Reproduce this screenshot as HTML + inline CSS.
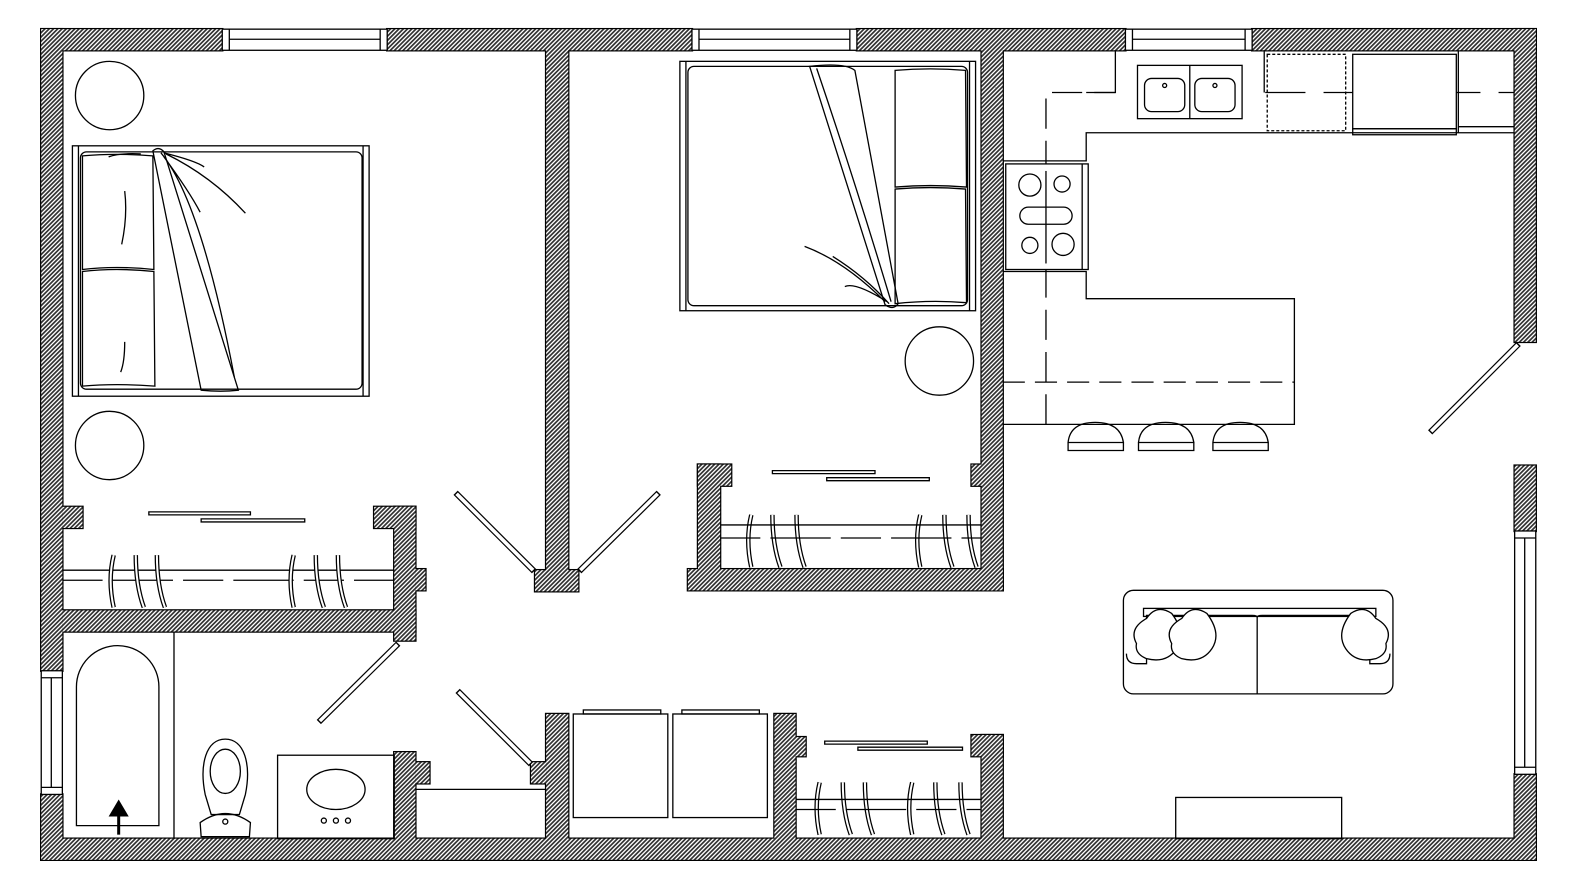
<!DOCTYPE html>
<html><head><meta charset="utf-8"><style>html,body{margin:0;padding:0;background:#fff}svg{display:block}</style></head>
<body>
<svg width="1577" height="896" viewBox="0 0 1568 891" preserveAspectRatio="none" xmlns="http://www.w3.org/2000/svg">
<defs>
<pattern id="h" width="3" height="3" patternUnits="userSpaceOnUse" patternTransform="rotate(45)">
<rect width="3" height="3" fill="#fff"/><rect width="1.7" height="3" fill="#333"/>
</pattern>
<g id="hg"><path d="M0 0 q-6 25 0 52" fill="none" stroke="#000" stroke-width="4.5"/><path d="M0 0 q-6 25 0 52" fill="none" stroke="#fff" stroke-width="2"/></g>
<g id="hg3"><path d="M0 0 q0 30 8 52" fill="none" stroke="#000" stroke-width="4.5"/><path d="M0 0 q0 30 8 52" fill="none" stroke="#fff" stroke-width="2"/></g>
</defs>
<rect width="1568" height="891" fill="#fff"/>

<g id="walls" stroke="#000" stroke-width="2.4" fill="#000">
<rect x="41" y="29" width="180" height="21"/><rect x="385" y="29" width="303" height="21"/><rect x="852" y="29" width="267" height="21"/><rect x="1245" y="29" width="282" height="21"/>
<rect x="41" y="834" width="1486" height="21"/>
<rect x="41" y="29" width="21" height="638"/><rect x="41" y="790" width="21" height="65"/>
<rect x="1506" y="29" width="21" height="311"/><rect x="1506" y="463" width="21" height="65"/><rect x="1506" y="770" width="21" height="85"/>
<rect x="62" y="607" width="351" height="21"/>
<rect x="392" y="504" width="21" height="133"/><rect x="372" y="504" width="41" height="21"/><rect x="413" y="566" width="10" height="21"/>
<rect x="62" y="504" width="20" height="21"/>
<rect x="392" y="748" width="21" height="90"/><rect x="413" y="758" width="14" height="21"/>
<rect x="543" y="45" width="22" height="530"/><rect x="532" y="567" width="43" height="21"/>
<rect x="543" y="710" width="22" height="128"/><rect x="528" y="758" width="15" height="21"/>
<rect x="770" y="710" width="21" height="128"/><rect x="791" y="733" width="10" height="19"/>
<rect x="976" y="731" width="21" height="107"/><rect x="966" y="731" width="31" height="21"/>
<rect x="976" y="45" width="21" height="542"/><rect x="684" y="566" width="313" height="21"/>
<rect x="694" y="462" width="22" height="125"/><rect x="694" y="462" width="33" height="21"/><rect x="966" y="462" width="31" height="21"/>
</g>
<g fill="url(#h)" stroke="none">
<rect x="41" y="29" width="180" height="21"/><rect x="385" y="29" width="303" height="21"/><rect x="852" y="29" width="267" height="21"/><rect x="1245" y="29" width="282" height="21"/>
<rect x="41" y="834" width="1486" height="21"/>
<rect x="41" y="29" width="21" height="638"/><rect x="41" y="790" width="21" height="65"/>
<rect x="1506" y="29" width="21" height="311"/><rect x="1506" y="463" width="21" height="65"/><rect x="1506" y="770" width="21" height="85"/>
<rect x="62" y="607" width="351" height="21"/>
<rect x="392" y="504" width="21" height="133"/><rect x="372" y="504" width="41" height="21"/><rect x="413" y="566" width="10" height="21"/>
<rect x="62" y="504" width="20" height="21"/>
<rect x="392" y="748" width="21" height="90"/><rect x="413" y="758" width="14" height="21"/>
<rect x="543" y="45" width="22" height="530"/><rect x="532" y="567" width="43" height="21"/>
<rect x="543" y="710" width="22" height="128"/><rect x="528" y="758" width="15" height="21"/>
<rect x="770" y="710" width="21" height="128"/><rect x="791" y="733" width="10" height="19"/>
<rect x="976" y="731" width="21" height="107"/><rect x="966" y="731" width="31" height="21"/>
<rect x="976" y="45" width="21" height="542"/><rect x="684" y="566" width="313" height="21"/>
<rect x="694" y="462" width="22" height="125"/><rect x="694" y="462" width="33" height="21"/><rect x="966" y="462" width="31" height="21"/>
</g>

<g fill="none" stroke="#000" stroke-width="1.3">
<rect x="221" y="29" width="164" height="21" fill="#fff"/><line x1="228" y1="29" x2="228" y2="50"/><line x1="378" y1="29" x2="378" y2="50"/><line x1="228" y1="39" x2="378" y2="39"/>
<rect x="688" y="29" width="164" height="21" fill="#fff"/><line x1="695" y1="29" x2="695" y2="50"/><line x1="845" y1="29" x2="845" y2="50"/><line x1="695" y1="39" x2="845" y2="39"/>
<rect x="1119" y="29" width="126" height="21" fill="#fff"/><line x1="1126" y1="29" x2="1126" y2="50"/><line x1="1238" y1="29" x2="1238" y2="50"/><line x1="1126" y1="39" x2="1238" y2="39"/>
<rect x="41" y="667" width="21" height="123" fill="#fff"/><line x1="41" y1="674" x2="62" y2="674"/><line x1="41" y1="783" x2="62" y2="783"/><line x1="51" y1="674" x2="51" y2="783"/>
<rect x="1506" y="528" width="21" height="242" fill="#fff"/><line x1="1506" y1="535" x2="1527" y2="535"/><line x1="1506" y1="763" x2="1527" y2="763"/><line x1="1516" y1="535" x2="1516" y2="763"/>

<g stroke-width="6"><line x1="531" y1="568" x2="453" y2="490"/><line x1="576" y1="568" x2="655" y2="490"/><line x1="396" y1="640" x2="317" y2="718"/><line x1="528" y1="760" x2="455" y2="687"/><line x1="1510" y1="342" x2="1422" y2="430"/></g>
<g stroke="#fff" stroke-width="3.6"><line x1="530" y1="567" x2="454" y2="491"/><line x1="577" y1="567" x2="654" y2="491"/><line x1="395" y1="641" x2="318" y2="717"/><line x1="527" y1="759" x2="456" y2="688"/><line x1="1509" y1="343" x2="1423" y2="429"/></g>

<circle cx="109" cy="95" r="34"/><circle cx="109" cy="443" r="34"/>
<rect x="72" y="145" width="295" height="249"/><line x1="78" y1="145" x2="78" y2="394"/><line x1="361" y1="145" x2="361" y2="394"/>
<rect x="80" y="151" width="280" height="236" rx="6"/>
<path d="M82 155 Q115 152 152 155 L153 268 Q115 264 82 268 Z"/><path d="M82 270 Q115 266 153 270 L154 384 Q115 381 82 384 Z"/>
<path d="M124 190 Q127 215 121 243 M124 340 Q124 360 120 370 M108 156 Q118 152 140 153"/>
<path d="M152 150 Q158 145 163 151 L237 388 Q220 390 200 388 Z"/>
<path d="M160 152 Q200 200 233 375 M163 152 Q195 160 203 166 M165 153 Q210 175 244 212 M163 156 Q188 190 199 211"/>
<path d="M148 509 h101 v3 h-101 z M200 516 h103 v3 h-103z"/>
<line x1="62" y1="567" x2="392" y2="567"/><line x1="62" y1="577" x2="392" y2="577" stroke-dasharray="40 10 60 10"/>
</g>
<g>
<use href="#hg" x="113" y="552"/><use href="#hg3" x="135" y="552"/><use href="#hg3" x="156" y="552"/>
<use href="#hg" x="292" y="552"/><use href="#hg3" x="314" y="552"/><use href="#hg3" x="336" y="552"/>
<use href="#hg" x="747" y="512"/><use href="#hg3" x="768" y="512"/><use href="#hg3" x="792" y="512"/>
<use href="#hg" x="915" y="512"/><use href="#hg3" x="939" y="512"/><use href="#hg3" x="963" y="512"/>
<use href="#hg" x="815" y="778"/><use href="#hg3" x="838" y="778"/><use href="#hg3" x="860" y="778"/>
<use href="#hg" x="907" y="778"/><use href="#hg3" x="930" y="778"/><use href="#hg3" x="955" y="778"/>
</g>
<g fill="none" stroke="#000" stroke-width="1.3">
<rect x="676" y="61" width="294" height="248"/><line x1="682" y1="61" x2="682" y2="309"/><line x1="964" y1="61" x2="964" y2="309"/>
<rect x="684" y="66" width="278" height="238" rx="6"/>
<path d="M890 70 Q925 67 960 70 L961 186 Q925 183 890 186 Z"/><path d="M890 188 Q925 185 960 188 L961 301 Q925 298 890 302 Z"/>
<path d="M805 66 Q840 62 850 70 L893 302 Q888 309 880 303 Z"/><path d="M812 68 Q850 180 886 300 M880 300 Q840 260 800 245 M882 300 Q850 280 840 285 M884 302 Q860 275 828 255"/>
<circle cx="934" cy="359" r="34"/>
<path d="M768 468 h102 v3 h-102z M822 475 h102 v3 h-102z"/>
<line x1="716" y1="522" x2="976" y2="522"/><line x1="716" y1="535" x2="976" y2="535" stroke-dasharray="40 10 60 10"/>

<line x1="173" y1="628" x2="173" y2="834"/>
<path d="M76 821 V683 A41 41 0 0 1 158 683 V821 Z"/>
<rect x="276" y="751" width="116" height="83"/>
<ellipse cx="334" cy="785" rx="29" ry="20"/><circle cx="322" cy="816" r="2.5"/><circle cx="334" cy="816" r="2.5"/><circle cx="346" cy="816" r="2.5"/>
<path d="M224 735 C205 735 198 760 204 790 L210 810 L238 810 L244 790 C250 760 243 735 224 735 Z"/>
<ellipse cx="224" cy="767" rx="15" ry="22"/>
<path d="M199 818 Q224 800 249 818 L248 832 L200 832 Z"/><circle cx="224" cy="817" r="2.5"/>
<line x1="413" y1="785" x2="543" y2="785"/>

<rect x="570" y="710" width="94" height="103"/><rect x="669" y="710" width="94" height="103"/>
<rect x="580" y="706" width="77" height="4"/><rect x="678" y="706" width="77" height="4"/>
<path d="M820 737 h102 v3 h-102z M853 743 h104 v3 h-104z"/>
<line x1="791" y1="795" x2="976" y2="795"/><line x1="791" y1="805" x2="976" y2="805" stroke-dasharray="40 10 60 10"/>

<path d="M1109 50 V92 H1080"/>
<path d="M1506 132 H1080 V160 H997"/>
<path d="M997 270 H1080 V297 H1287 V422 H997"/>
<line x1="997" y1="380" x2="1287" y2="380" stroke-dasharray="22 10"/>
<path d="M1040 422 V92 H1109" stroke-dasharray="30 12"/>
<line x1="1258" y1="92" x2="1506" y2="92" stroke-dasharray="40 18"/>
<line x1="1257" y1="50" x2="1257" y2="92"/>
<rect x="1000" y="163" width="82" height="105" fill="#fff"/><line x1="1076" y1="163" x2="1076" y2="268"/>
<circle cx="1024" cy="184" r="11"/><circle cx="1056" cy="183" r="8"/><rect x="1014" y="206" width="52" height="17" rx="8.5"/><circle cx="1024" cy="244" r="8"/><circle cx="1057" cy="243" r="11"/>
<line x1="1040" y1="170" x2="1040" y2="262"/>
<rect x="1131" y="65" width="104" height="53" fill="#fff"/><line x1="1183" y1="65" x2="1183" y2="118"/>
<rect x="1138" y="78" width="40" height="33" rx="7"/><rect x="1188" y="78" width="40" height="33" rx="7"/>
<circle cx="1158" cy="85" r="2"/><circle cx="1208" cy="85" r="2"/>
<rect x="1260" y="54" width="78" height="76" stroke-dasharray="3 2"/>
<rect x="1345" y="54" width="103" height="74" fill="#fff"/><rect x="1345" y="128" width="103" height="6"/>
<path d="M1450 50 V132 M1450 126 H1506"/>
<path d="M1062 440 Q1064 420 1089 420 Q1114 420 1117 440 Z M1062 440 h55 v8 h-55z"/>
<path d="M1132 440 Q1134 420 1159 420 Q1184 420 1187 440 Z M1132 440 h55 v8 h-55z"/>
<path d="M1206 440 Q1208 420 1233 420 Q1258 420 1261 440 Z M1206 440 h55 v8 h-55z"/>

<rect x="1117" y="587" width="268" height="103" rx="10"/>
<rect x="1137" y="605" width="231" height="8"/>
<path d="M1250 690 V614 Q1250 612 1245 612 H1140 V660 H1130 Q1120 660 1120 650 M1250 690 V614 Q1250 612 1255 612 H1362 V660 H1372 Q1382 660 1382 650"/>
<path d="M1130 640 Q1122 625 1140 615 Q1150 600 1165 610 Q1180 630 1170 645 Q1160 660 1140 655 Q1128 650 1130 640 Z" fill="#fff"/>
<path d="M1165 640 Q1157 625 1175 615 Q1185 600 1200 610 Q1215 630 1205 645 Q1195 660 1175 655 Q1163 650 1165 640 Z" fill="#fff"/>
<path d="M1378 640 Q1386 625 1368 615 Q1358 600 1343 610 Q1328 630 1338 645 Q1348 660 1368 655 Q1380 650 1378 640 Z" fill="#fff"/>
<rect x="1169" y="793" width="165" height="41"/>
</g>
<line x1="118" y1="830" x2="118" y2="808" stroke="#000" stroke-width="3"/>
<polygon points="118,795 108,812 128,812" fill="#000"/>
</svg>
</body></html>
